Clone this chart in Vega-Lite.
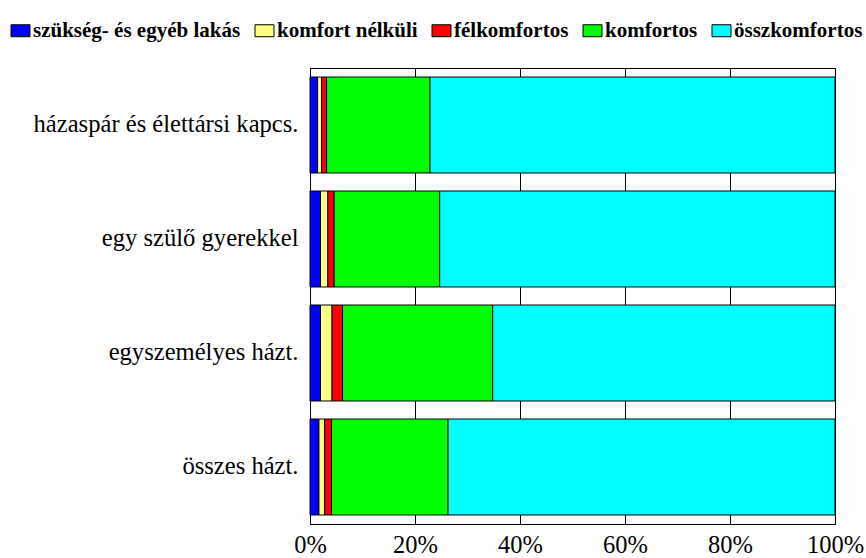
{
  "$schema": "https://vega.github.io/schema/vega-lite/v6.json",
  "width": 525,
  "height": 456,
  "autosize": {"type": "none"},
  "padding": {"left": 310, "top": 68, "right": 31, "bottom": 34},
  "background": "white",
  "config": {
    "font": "Times New Roman, Liberation Serif, serif",
    "view": {"stroke": "#000000", "strokeWidth": 1}
  },
  "data": {
    "values": [
      {"cat": "házaspár és élettársi kapcs.", "type": "szükség- és egyéb lakás", "ord": 1, "v": 1.45},
      {"cat": "házaspár és élettársi kapcs.", "type": "komfort nélküli", "ord": 2, "v": 0.76},
      {"cat": "házaspár és élettársi kapcs.", "type": "félkomfortos", "ord": 3, "v": 0.95},
      {"cat": "házaspár és élettársi kapcs.", "type": "komfortos", "ord": 4, "v": 19.7},
      {"cat": "házaspár és élettársi kapcs.", "type": "összkomfortos", "ord": 5, "v": 77.14},
      {"cat": "egy szülő gyerekkel", "type": "szükség- és egyéb lakás", "ord": 1, "v": 2.0},
      {"cat": "egy szülő gyerekkel", "type": "komfort nélküli", "ord": 2, "v": 1.4},
      {"cat": "egy szülő gyerekkel", "type": "félkomfortos", "ord": 3, "v": 1.2},
      {"cat": "egy szülő gyerekkel", "type": "komfortos", "ord": 4, "v": 20.1},
      {"cat": "egy szülő gyerekkel", "type": "összkomfortos", "ord": 5, "v": 75.3},
      {"cat": "egyszemélyes házt.", "type": "szükség- és egyéb lakás", "ord": 1, "v": 2.0},
      {"cat": "egyszemélyes házt.", "type": "komfort nélküli", "ord": 2, "v": 2.2},
      {"cat": "egyszemélyes házt.", "type": "félkomfortos", "ord": 3, "v": 2.0},
      {"cat": "egyszemélyes házt.", "type": "komfortos", "ord": 4, "v": 28.6},
      {"cat": "egyszemélyes házt.", "type": "összkomfortos", "ord": 5, "v": 65.2},
      {"cat": "összes házt.", "type": "szükség- és egyéb lakás", "ord": 1, "v": 1.7},
      {"cat": "összes házt.", "type": "komfort nélküli", "ord": 2, "v": 1.1},
      {"cat": "összes házt.", "type": "félkomfortos", "ord": 3, "v": 1.3},
      {"cat": "összes házt.", "type": "komfortos", "ord": 4, "v": 22.2},
      {"cat": "összes házt.", "type": "összkomfortos", "ord": 5, "v": 73.7}
    ]
  },
  "mark": {"type": "bar", "stroke": "#000000", "strokeWidth": 1},
  "encoding": {
    "y": {
      "field": "cat",
      "type": "nominal",
      "sort": null,
      "scale": {"paddingInner": 0.158, "paddingOuter": 0.079},
      "axis": {
        "title": null,
        "domain": true,
        "domainColor": "#000000",
        "ticks": false,
        "labelFont": "Times New Roman, Liberation Serif, serif",
        "labelFontSize": 24.6,
        "labelColor": "#000000",
        "labelPadding": 12,
        "labelLimit": 400
      }
    },
    "x": {
      "field": "v",
      "type": "quantitative",
      "stack": "normalize",
      "scale": {"domain": [0, 1]},
      "axis": {
        "title": null,
        "format": ".0%",
        "values": [0, 0.2, 0.4, 0.6, 0.8, 1],
        "grid": true,
        "gridColor": "#000000",
        "gridOpacity": 1,
        "gridWidth": 1,
        "domainColor": "#000000",
        "tickSize": 0,
        "labelFont": "Times New Roman, Liberation Serif, serif",
        "labelFontSize": 24.5,
        "labelColor": "#000000",
        "labelPadding": 9,
        "labelFlush": false
      }
    },
    "color": {
      "field": "type",
      "type": "nominal",
      "scale": {
        "domain": ["szükség- és egyéb lakás", "komfort nélküli", "félkomfortos", "komfortos", "összkomfortos"],
        "range": ["#0000FF", "#FFFF80", "#FF0000", "#00FF00", "#00FFFF"]
      },
      "legend": {
        "title": null,
        "orient": "none",
        "direction": "horizontal",
        "legendX": -300,
        "legendY": -48,
        "symbolType": "M-1,-0.63H1V0.63H-1Z",
        "symbolSize": 361,
        "symbolStrokeColor": "#000000",
        "symbolStrokeWidth": 1,
        "symbolOpacity": 1,
        "labelFont": "Times New Roman, Liberation Serif, serif",
        "labelFontSize": 21,
        "labelFontWeight": "bold",
        "labelColor": "#000000",
        "labelOffset": 2,
        "columnPadding": 12,
        "labelLimit": 400
      }
    },
    "order": {"field": "ord", "type": "quantitative"}
  }
}
